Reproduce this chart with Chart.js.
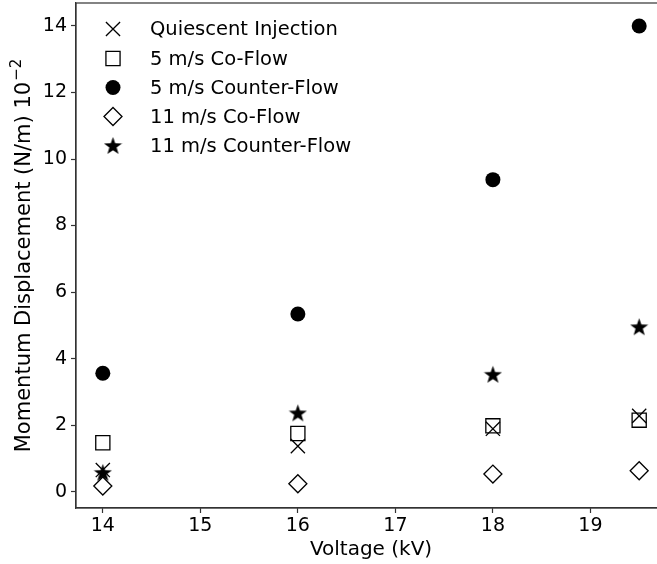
<!DOCTYPE html>
<html>
<head>
<meta charset="utf-8">
<script src="https://cdn.jsdelivr.net/npm/chart.js@4/dist/chart.umd.min.js"></script>
<style>
html, body { margin: 0; padding: 0; background: #fff; overflow: hidden; width: 657px; height: 564px; }
#wrap { position: absolute; left: 0; top: 0; width: 700px; height: 564px; }
</style>
</head>
<body>
<div id="wrap"><canvas id="c" width="700" height="564"></canvas></div>
<script>
const voltage = [14, 16, 18, 19.5];
const quiescent = [0.65, 1.37, 1.89, 2.28];
const coFlow5 = [1.47, 1.75, 1.98, 2.15];
const counterFlow5 = [3.56, 5.34, 9.38, 14.0];
const coFlow11 = [0.17, 0.24, 0.53, 0.63];
const counterFlow11 = [0.58, 2.37, 3.53, 4.96];
const seriesLabels = ['Quiescent Injection', '5 m/s Co-Flow', '5 m/s Counter-Flow', '11 m/s Co-Flow', '11 m/s Counter-Flow'];
const xTicks = [14, 15, 16, 17, 18, 19];
const yTicks = [0, 2, 4, 6, 8, 10, 12, 14];
const xLabel = 'Voltage (kV)';
const yLabelMain = 'Momentum Displacement (N/m) 10';
const yLabelSup = '\u22122';

const FONT = "'DejaVu Sans', sans-serif";

function makeStar(size) {
  const cv = document.createElement('canvas');
  cv.width = size; cv.height = size;
  const g = cv.getContext('2d');
  const cx = size / 2, cy = size / 2 + 0.9;
  const R = size / 2, r = R * 0.40;
  g.beginPath();
  for (let i = 0; i < 10; i++) {
    const ang = -Math.PI / 2 + i * Math.PI / 5;
    const rad = i % 2 === 0 ? R : r;
    const px = cx + rad * Math.cos(ang), py = cy + rad * Math.sin(ang);
    if (i === 0) g.moveTo(px, py); else g.lineTo(px, py);
  }
  g.closePath();
  g.fillStyle = '#000';
  g.fill();
  return cv;
}
const starImg = makeStar(19);

const styles = [
  { pointStyle: 'crossRot', radius: 10, borderWidth: 1.3, borderColor: '#000', backgroundColor: 'rgba(0,0,0,0)' },
  { pointStyle: 'rect', radius: 10, borderWidth: 1.3, borderColor: '#000', backgroundColor: 'rgba(0,0,0,0)' },
  { pointStyle: 'circle', radius: 7.5, borderWidth: 0, borderColor: '#000', backgroundColor: '#000' },
  { pointStyle: 'rectRot', radius: 9, borderWidth: 1.3, borderColor: '#000', backgroundColor: 'rgba(0,0,0,0)' },
  { pointStyle: starImg, radius: 9, borderWidth: 0, borderColor: '#000', backgroundColor: '#000' }
];
const seriesData = [quiescent, coFlow5, counterFlow5, coFlow11, counterFlow11];

const datasets = seriesData.map((vals, i) => ({
  label: seriesLabels[i],
  data: voltage.map((v, j) => ({ x: v, y: vals[j] })),
  showLine: false,
  pointStyle: styles[i].pointStyle,
  pointRadius: styles[i].radius,
  pointHoverRadius: styles[i].radius,
  pointBorderWidth: styles[i].borderWidth,
  pointBorderColor: styles[i].borderColor,
  pointBackgroundColor: styles[i].backgroundColor,
  borderColor: styles[i].borderColor,
  backgroundColor: styles[i].backgroundColor,
  order: seriesData.length - i
}));

const framePlugin = {
  id: 'frame',
  afterDraw(chart) {
    const { ctx, chartArea: a } = chart;
    ctx.save();
    ctx.strokeStyle = '#333';
    ctx.lineWidth = 1.2;
    ctx.strokeRect(a.left, a.top, a.right - a.left, a.bottom - a.top);

    // y-axis title with superscript
    const mainFont = '21px ' + FONT, supFont = '15px ' + FONT;
    ctx.font = mainFont;
    const wMain = ctx.measureText(yLabelMain).width;
    ctx.font = supFont;
    const wSup = ctx.measureText(yLabelSup).width;
    const total = wMain + wSup + 1;
    const cy = (a.top + a.bottom) / 2;
    ctx.translate(30, cy);
    ctx.rotate(-Math.PI / 2);
    ctx.fillStyle = '#000';
    ctx.textBaseline = 'alphabetic';
    ctx.textAlign = 'left';
    ctx.font = mainFont;
    ctx.fillText(yLabelMain, -total / 2, 0);
    ctx.font = supFont;
    ctx.fillText(yLabelSup, -total / 2 + wMain + 1, -9.5);
    ctx.setTransform(1, 0, 0, 1, 0, 0);

    // legend
    const rowY = [29, 58.5, 87.5, 116.5, 145.5];
    const mx = 113, tx = 150;
    ctx.font = '19.5px ' + FONT;
    ctx.textBaseline = 'middle';
    ctx.textAlign = 'left';
    for (let i = 0; i < seriesLabels.length; i++) {
      const s = styles[i];
      ctx.fillStyle = s.backgroundColor;
      ctx.strokeStyle = s.borderColor;
      ctx.lineWidth = s.borderWidth;
      Chart.helpers.drawPoint(ctx, {
        pointStyle: s.pointStyle,
        radius: s.radius,
        rotation: 0,
        borderWidth: s.borderWidth
      }, mx, rowY[i]);
      ctx.fillStyle = '#000';
      ctx.fillText(seriesLabels[i], tx, rowY[i] + 1);
    }
    ctx.restore();
  }
};

new Chart(document.getElementById('c'), {
  type: 'scatter',
  data: { datasets },
  options: {
    responsive: false,
    animation: false,
    devicePixelRatio: 1,
    layout: { autoPadding: false, padding: { top: 3, right: 34, left: 0, bottom: 0 } },
    plugins: { legend: { display: false }, tooltip: { enabled: false } },
    scales: {
      x: {
        type: 'linear',
        min: 13.725,
        max: 19.775,
        afterBuildTicks(scale) { scale.ticks = xTicks.map(v => ({ value: v })); },
        afterFit(scale) { scale.height = 56; scale.paddingLeft = 0; scale.paddingRight = 0; },
        grid: { display: true, drawOnChartArea: false, drawTicks: true, tickLength: 5, color: '#333', tickWidth: 1.2 },
        border: { display: true, color: '#333', width: 1.2 },
        ticks: { color: '#000', font: { family: FONT, size: 19 }, padding: 2, maxRotation: 0, autoSkip: false },
        title: { display: true, text: xLabel, color: '#000', font: { family: FONT, size: 20 }, padding: { top: 0, bottom: 2 } }
      },
      y: {
        type: 'linear',
        min: -0.49,
        max: 14.69,
        afterBuildTicks(scale) { scale.ticks = yTicks.map(v => ({ value: v })); },
        afterFit(scale) { scale.width = 76; scale.paddingTop = 0; scale.paddingBottom = 0; },
        grid: { display: true, drawOnChartArea: false, drawTicks: true, tickLength: 5, color: '#333', tickWidth: 1.2 },
        border: { display: true, color: '#333', width: 1.2 },
        ticks: { color: '#000', font: { family: FONT, size: 19 }, padding: 4, autoSkip: false },
        title: { display: false }
      }
    }
  },
  plugins: [framePlugin]
});
</script>
</body>
</html>
